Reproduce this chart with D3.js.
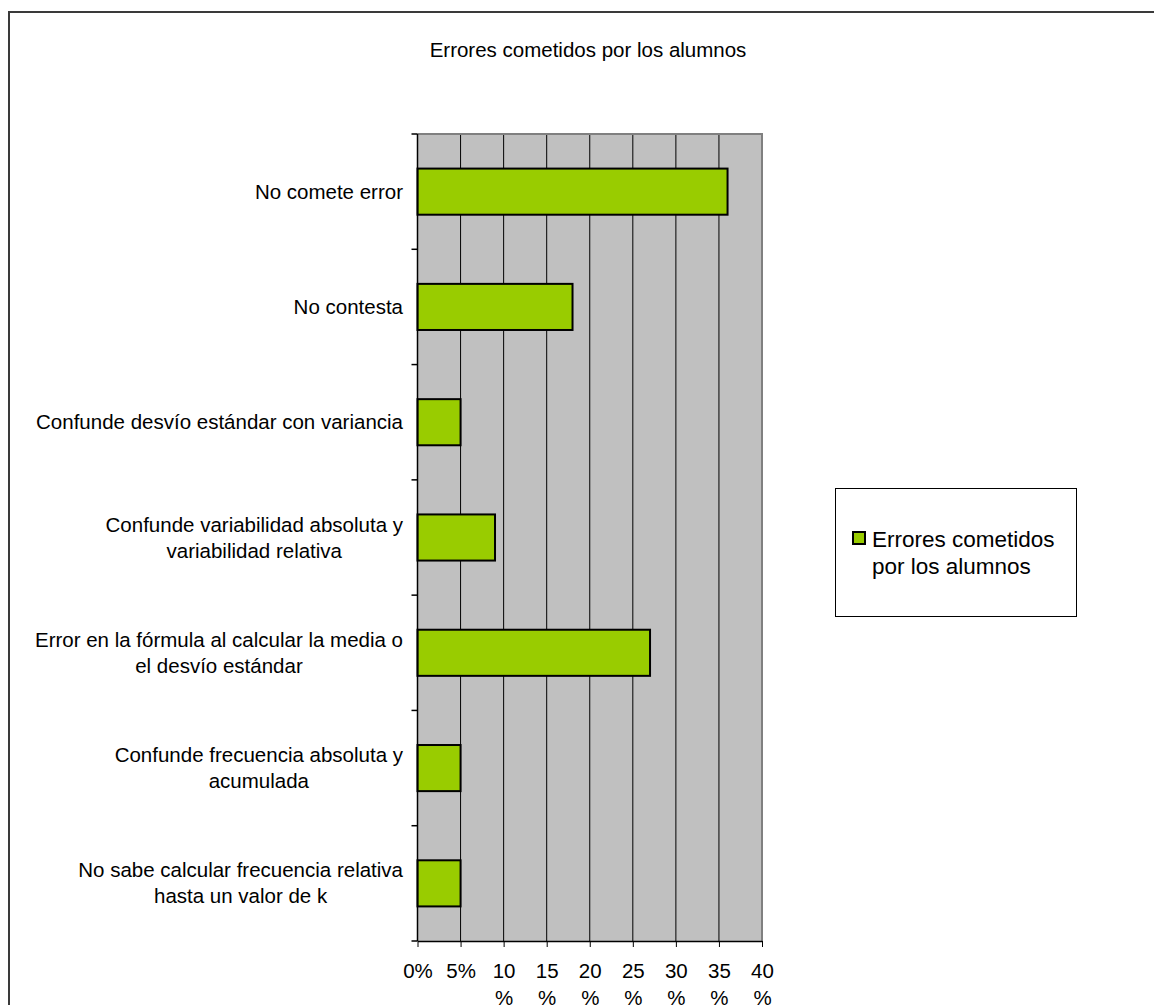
<!DOCTYPE html>
<html>
<head>
<meta charset="utf-8">
<script src="https://cdn.jsdelivr.net/npm/d3@7"></script>
<style>
  body { margin: 0; background: #fff; }
  svg text { font-family: "Liberation Sans", Arial, sans-serif; fill: #000; }
</style>
</head>
<body>
<div id="chart"></div>
<script>
// chart data

var title = "Errores cometidos por los alumnos";
var seriesName = "Errores cometidos\npor los alumnos";

var categories = [
  "No comete error",
  "No contesta",
  "Confunde desvío estándar con variancia",
  "Confunde variabilidad absoluta y\nvariabilidad relativa",
  "Error en la fórmula al calcular la media o\nel desvío estándar",
  "Confunde frecuencia absoluta y\nacumulada",
  "No sabe calcular frecuencia relativa\nhasta un valor de k"
];

var values = [36, 18, 5, 9, 27, 5, 5];

var tickValues = [0, 5, 10, 15, 20, 25, 30, 35, 40];
var tickLabels = ["0%", "5%", "10\n%", "15\n%", "20\n%", "25\n%", "30\n%", "35\n%", "40\n%"];

// svg size

var svgWidth = 1154;
var svgHeight = 1005;

var plot = { left: 417.5, right: 762, top: 134, bottom: 941 };

var svg = d3.select("#chart")
  .append("svg")
  .attr("width", svgWidth)
  .attr("height", svgHeight);

// outer frame (right / bottom run off the picture)
svg.append("rect")
  .attr("x", 9).attr("y", 12)
  .attr("width", 1200).attr("height", 1100)
  .attr("fill", "none")
  .attr("stroke", "#3a3a3a")
  .attr("stroke-width", 2);

// title
svg.append("text")
  .attr("x", 588)
  .attr("y", 57)
  .attr("text-anchor", "middle")
  .attr("font-size", 20.5)
  .text(title);

// scales

var xScale = d3.scaleLinear()
  .domain([0, 40])
  .range([plot.left, plot.right]);

var yScale = d3.scaleBand()
  .domain(categories)
  .range([plot.top, plot.bottom])
  .paddingInner(0.6)
  .paddingOuter(0.3);

// plot background
svg.append("rect")
  .attr("x", plot.left).attr("y", plot.top)
  .attr("width", plot.right - plot.left)
  .attr("height", plot.bottom - plot.top)
  .attr("fill", "#c0c0c0");

// vertical gridlines
svg.append("g")
  .selectAll("line")
  .data(tickValues.slice(1, -1))
  .enter()
  .append("line")
  .attr("x1", d => xScale(d)).attr("x2", d => xScale(d))
  .attr("y1", plot.top).attr("y2", plot.bottom)
  .attr("stroke", "#000")
  .attr("stroke-width", 1);

// gray border top / right
svg.append("path")
  .attr("d", `M${plot.left},${plot.top}H${plot.right}V${plot.bottom}`)
  .attr("fill", "none")
  .attr("stroke", "#808080")
  .attr("stroke-width", 2);

// bars
svg.append("g")
  .selectAll("rect")
  .data(categories)
  .enter()
  .append("rect")
  .attr("x", xScale(0))
  .attr("y", d => yScale(d))
  .attr("width", (d, i) => xScale(values[i]) - xScale(0))
  .attr("height", yScale.bandwidth())
  .attr("fill", "#99cc00")
  .attr("stroke", "#000")
  .attr("stroke-width", 2);

// x axis
var xAxis = d3.axisBottom(xScale)
  .tickValues(tickValues)
  .tickSize(6)
  .tickSizeOuter(0)
  .tickFormat((d, i) => tickLabels[i]);

var xg = svg.append("g")
  .attr("transform", `translate(0, ${plot.bottom})`)
  .call(xAxis);

xg.select(".domain").attr("stroke", "#000").attr("stroke-width", 1.5);
xg.selectAll(".tick line").attr("stroke", "#000");
xg.selectAll(".tick text").each(function(d, i) {
  var t = d3.select(this);
  var lines = tickLabels[i].split("\n");
  t.text(null)
    .attr("y", 37)
    .attr("dy", null)
    .attr("font-size", 20.5)
    .attr("font-family", null)
    .attr("fill", "#000");
  lines.forEach(function(s, k) {
    t.append("tspan").attr("x", 0).attr("dy", k == 0 ? 0 : 27).text(s);
  });
});

// y axis line and ticks on category boundaries
var step = yScale.step();
var boundaries = d3.range(categories.length + 1).map(i => plot.top + i * step);

svg.append("line")
  .attr("x1", plot.left).attr("x2", plot.left)
  .attr("y1", plot.top).attr("y2", plot.bottom)
  .attr("stroke", "#000").attr("stroke-width", 1.5);

svg.append("g")
  .selectAll("line")
  .data(boundaries)
  .enter()
  .append("line")
  .attr("x1", plot.left - 6).attr("x2", plot.left)
  .attr("y1", d => d).attr("y2", d => d)
  .attr("stroke", "#000").attr("stroke-width", 1.5);

// category labels, right aligned as a block, lines centred
var labelRight = 403;
var lineGap = 26;

categories.forEach(function(c) {
  var lines = c.split("\n");
  var cy = yScale(c) + yScale.bandwidth() / 2;
  var t = svg.append("text")
    .attr("font-size", 20.5)
    .attr("text-anchor", "middle");
  var y0 = cy + 7 - (lines.length - 1) * lineGap / 2;
  lines.forEach(function(s, k) {
    t.append("tspan").attr("y", y0 + k * lineGap).text(s);
  });
  var w = d3.max(t.selectAll("tspan").nodes(), n => n.getComputedTextLength());
  t.selectAll("tspan").attr("x", labelRight - w / 2);
});

// legend
var legend = svg.append("g");

legend.append("rect")
  .attr("x", 835.5).attr("y", 488.5)
  .attr("width", 241).attr("height", 128)
  .attr("fill", "#fff")
  .attr("stroke", "#000")
  .attr("stroke-width", 1);

legend.append("rect")
  .attr("x", 853).attr("y", 532)
  .attr("width", 12).attr("height", 12)
  .attr("fill", "#99cc00")
  .attr("stroke", "#000")
  .attr("stroke-width", 2);

var lt = legend.append("text").attr("font-size", 22.5);
seriesName.split("\n").forEach(function(s, k) {
  lt.append("tspan").attr("x", 872).attr("y", 547 + k * 26.5).text(s);
});
</script>
</body>
</html>
